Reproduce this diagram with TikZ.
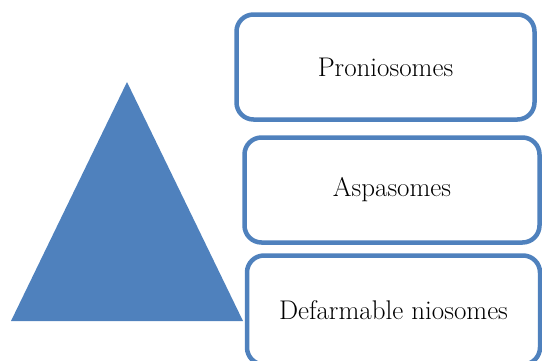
\documentclass[tikz,border=0pt]{standalone}
\usepackage{tikz}
\usetikzlibrary{positioning}
\definecolor{officeblue}{RGB}{79,129,189}

\begin{document}
\begin{tikzpicture}[x=1pt,y=-1pt]
\tikzstyle{stage}=[rectangle, rounded corners=17pt, line width=4.5pt, draw=officeblue, fill=white, inner sep=0pt, font=\fontsize{27}{32}\selectfont]
\tikzstyle{pyramid}=[fill=officeblue]

\useasboundingbox (0,0) rectangle (542,360);

% triangle on the left
	\coordinate (top) at (127,82);
	\coordinate (bl) at (11,321);
	\coordinate (br) at (243,321);
	\fill[pyramid] (top) -- (bl) -- (br) -- cycle;

% the three boxes
	\node[stage, minimum width=298pt, minimum height=105pt] (pro) at (385.5,67) []{Proniosomes};
	\node[stage, minimum width=295pt, minimum height=105pt] (asp) at (392,190) []{Aspasomes};
	\node[stage, minimum width=293pt, minimum height=109pt] (def) at (393.5,310) []{Defarmable niosomes};

\end{tikzpicture}
\end{document}
